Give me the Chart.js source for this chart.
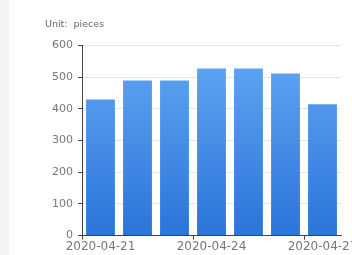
<!DOCTYPE html>
<html><head><meta charset="utf-8">
<script src="https://cdn.jsdelivr.net/npm/chart.js@4/dist/chart.umd.min.js"></script>
<style>
html,body{margin:0;padding:0;width:352px;height:255px;overflow:hidden;background:#fff;}
#strip{position:absolute;left:0;top:0;width:9px;height:255px;background:#f3f3f3;}
#wrap{position:absolute;left:0;top:0;width:380px;height:255px;}
</style></head><body>
<div id="strip"></div>
<div id="wrap"><canvas id="c" width="380" height="255"></canvas></div>
<script>
const categories = ['2020-04-21','2020-04-22','2020-04-23','2020-04-24','2020-04-25','2020-04-26','2020-04-27'];
const values = [429, 489, 489, 527, 527, 511, 414];
const yTicks = [0, 100, 200, 300, 400, 500, 600];
const unitLabel = 'Unit:  pieces';

const FONT = 'DejaVu Sans';
function barGradient(ctx){
  const chart = ctx.chart; const a = chart.chartArea;
  if(!a) return '#4a90e8';
  const g = chart.ctx.createLinearGradient(0, a.top, 0, a.bottom);
  g.addColorStop(0, '#62a8f4');
  g.addColorStop(1, '#2b74d9');
  return g;
}
new Chart(document.getElementById('c'), {
  type: 'bar',
  data: { labels: categories, datasets: [{ data: values, backgroundColor: barGradient, barPercentage: 0.78, categoryPercentage: 1.0, borderWidth: 0 }] },
  options: {
    responsive: false, animation: false,
    layout: { padding: { left: 45, right: 39, top: 0, bottom: 1 } },
    plugins: {
      legend: { display: false }, tooltip: { enabled: false },
      title: { display: true, text: unitLabel, align: 'start', color: '#666', font: { family: FONT, size: 9.5, weight: 'normal' }, padding: { top: 19, bottom: 15 } }
    },
    scales: {
      x: {
        offset: true,
        grid: { offset: true, drawOnChartArea: false, tickLength: 4,
          tickColor: (c) => (c.index % 3 === 0 || c.index === categories.length) ? '#444' : 'rgba(0,0,0,0)' },
        border: { color: '#444', width: 1 },
        ticks: { autoSkip: false, maxRotation: 0, color: '#777', font: { family: FONT, size: 12 }, padding: 0,
          callback: function(v, i){ return i % 3 === 0 ? categories[i] : ''; } }
      },
      y: {
        min: 0, max: 600,
        afterFit: (s) => { s.width = 37; },
        afterBuildTicks: (s) => { s.ticks = yTicks.map(v => ({ value: v })); },
        grid: { color: (c) => c.index === 0 ? 'rgba(0,0,0,0)' : '#e4e4e4', tickColor: '#444', tickLength: 4 },
        border: { color: '#444', width: 1 },
        ticks: { color: '#777', font: { family: FONT, size: 11 }, padding: 5 }
      }
    }
  }
});
</script></body></html>
